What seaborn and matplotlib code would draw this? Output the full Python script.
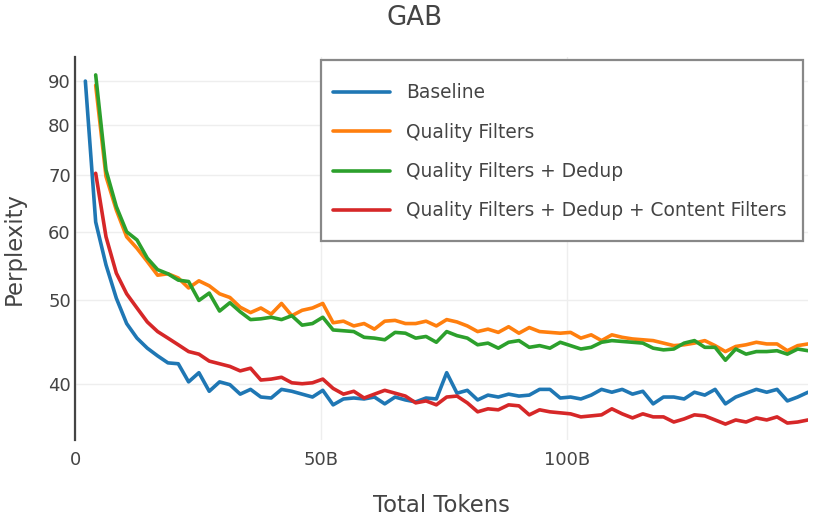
import matplotlib
matplotlib.use("Agg")
import matplotlib.pyplot as plt
from matplotlib.patches import Rectangle
from matplotlib.ticker import NullLocator
import pandas as pd
import seaborn as sns

# tokens seen (billions), one eval point every ~2.1B
tokens_b = [2.1, 4.2, 6.3, 8.4, 10.5, 12.6, 14.7, 16.8, 18.9, 21.0,
            23.1, 25.2, 27.3, 29.4, 31.5, 33.6, 35.7, 37.8, 39.9, 42.0,
            44.1, 46.2, 48.3, 50.4, 52.5, 54.6, 56.7, 58.8, 60.9, 63.0,
            65.1, 67.2, 69.3, 71.4, 73.5, 75.6, 77.7, 79.8, 81.9, 84.0,
            86.1, 88.2, 90.3, 92.4, 94.5, 96.6, 98.7, 100.8, 102.9, 105.0,
            107.1, 109.2, 111.3, 113.4, 115.5, 117.6, 119.7, 121.8, 123.9, 126.0,
            128.1, 130.2, 132.3, 134.4, 136.5, 138.6, 140.7, 142.8, 144.9, 147.0,
            149.1]

baseline = [90.0, 61.7, 55.0, 50.3, 47.0, 45.2, 44.0, 43.1, 42.3, 42.2,
            40.2, 41.2, 39.2, 40.2, 39.9, 38.9, 39.4, 38.6, 38.5, 39.4,
            39.2, 38.9, 38.6, 39.3, 37.8, 38.4, 38.5, 38.4, 38.6, 37.9,
            38.6, 38.3, 38.1, 38.5, 38.4, 41.2, 39.0, 39.3, 38.3, 38.8,
            38.6, 38.9, 38.7, 38.8, 39.4, 39.4, 38.5, 38.6, 38.4, 38.8,
            39.4, 39.1, 39.4, 38.9, 39.2, 37.9, 38.6, 38.6, 38.4, 39.1,
            38.8, 39.4, 37.9, 38.6, 39.0, 39.4, 39.1, 39.4, 38.2, 38.6,
            39.1]

quality = [None, 89.0, 69.7, 63.7, 59.3, 57.5, 55.5, 53.5, 53.7, 53.1,
           51.7, 52.7, 52.0, 50.9, 50.4, 49.1, 48.4, 49.0, 48.2, 49.6,
           48.0, 48.7, 49.0, 49.6, 47.1, 47.3, 46.7, 47.0, 46.3, 47.3,
           47.4, 47.0, 47.0, 47.3, 46.7, 47.5, 47.2, 46.7, 46.0, 46.3,
           45.9, 46.6, 45.8, 46.5, 46.0, 45.9, 45.8, 45.9, 45.2, 45.6,
           44.9, 45.6, 45.3, 45.1, 45.0, 44.9, 44.6, 44.3, 44.4, 44.6,
           44.9, 44.3, 43.6, 44.2, 44.4, 44.7, 44.5, 44.5, 43.7, 44.3,
           44.5]

dedup = [None, 91.5, 70.9, 64.3, 60.1, 58.8, 56.0, 54.3, 53.7, 52.8,
         52.6, 50.0, 51.0, 48.6, 49.7, 48.5, 47.5, 47.6, 47.8, 47.5,
         48.0, 46.8, 47.0, 47.8, 46.2, 46.1, 46.0, 45.3, 45.2, 45.0,
         45.9, 45.8, 45.2, 45.4, 44.7, 46.0, 45.5, 45.2, 44.4, 44.6,
         44.0, 44.7, 44.9, 44.1, 44.3, 44.0, 44.7, 44.3, 43.9, 44.1,
         44.7, 44.9, 44.8, 44.7, 44.6, 44.0, 43.8, 43.9, 44.6, 44.9,
         44.1, 44.1, 42.6, 43.9, 43.3, 43.6, 43.6, 43.7, 43.3, 43.9,
         43.7]

content = [None, 70.3, 59.3, 53.8, 50.9, 49.0, 47.2, 46.0, 45.2, 44.4,
           43.6, 43.3, 42.5, 42.2, 41.9, 41.4, 41.7, 40.4, 40.5, 40.7,
           40.1, 40.0, 40.1, 40.5, 39.5, 38.9, 39.2, 38.5, 38.9, 39.3,
           39.0, 38.7, 38.0, 38.2, 37.8, 38.6, 38.7, 38.0, 37.1, 37.4,
           37.3, 37.8, 37.7, 36.8, 37.3, 37.1, 37.0, 36.9, 36.6, 36.7,
           36.8, 37.4, 36.9, 36.5, 36.9, 36.6, 36.6, 36.1, 36.4, 36.8,
           36.7, 36.3, 35.9, 36.3, 36.1, 36.5, 36.3, 36.6, 36.0, 36.1,
           36.3]

run_names = ["Baseline", "Quality Filters", "Quality Filters + Dedup",
             "Quality Filters + Dedup + Content Filters"]
run_colors = ["#1f77b4", "#ff7f0e", "#2ca02c", "#d62728"]
y_ticks = [40, 50, 60, 70, 80, 90]
x_ticks = [0, 50, 100]
x_labels = ["0", "50B", "100B"]

frames = []
for name, vals in zip(run_names, [baseline, quality, dedup, content]):
    frames.append(pd.DataFrame({"tokens": tokens_b, "ppl": vals, "run": name}))
df = pd.concat(frames).dropna()

sns.set_style("white")
plt.rcParams["font.family"] = ["DejaVu Sans"]
text_col = "#444444"
W, H = 830, 520

fig = plt.figure(figsize=(8.3, 5.2), dpi=100)
ax = fig.add_axes([0.0904, 0.1538, 0.8831, 0.7366])

sns.lineplot(data=df, x="tokens", y="ppl", hue="run", hue_order=run_names,
             palette=run_colors, linewidth=2.6, estimator=None, ax=ax)

ax.set_yscale("log")
ax.set_ylim(34.4, 96)
ax.set_xlim(0, 149.1)
ax.set_yticks(y_ticks)
ax.set_yticklabels([str(t) for t in y_ticks])
ax.yaxis.set_minor_locator(NullLocator())
ax.set_xticks(x_ticks)
ax.set_xticklabels(x_labels)
ax.tick_params(axis="y", length=0, pad=3, labelsize=13, colors=text_col)
ax.tick_params(axis="x", length=0, pad=8, labelsize=13, colors=text_col)

ax.grid(True, color="#eeeeee", linewidth=1)
ax.set_axisbelow(True)
for side in ["top", "right", "bottom"]:
    ax.spines[side].set_visible(False)
ax.spines["left"].set_color(text_col)
ax.spines["left"].set_linewidth(1.6)

ax.set_xlabel("Total Tokens", fontsize=16.4, color=text_col, labelpad=18)
ax.set_ylabel("Perplexity", fontsize=16.4, color=text_col, labelpad=16)
fig.text(0.5, 1 - 18 / H, "GAB", ha="center", va="center",
         fontsize=18.8, color=text_col)

# legend box drawn separately so its padding can differ per side
box = Rectangle((321 / W, 1 - 241 / H), 482 / W, 181 / H,
                transform=fig.transFigure, facecolor="white",
                edgecolor="#888888", linewidth=1.6, zorder=4, clip_on=False)
ax.add_patch(box)

old = ax.get_legend()
handles = old.legend_handles
labels = [t.get_text() for t in old.get_texts()]
old.remove()
leg = ax.legend(handles, labels, loc="upper left",
                bbox_to_anchor=(333 / W, 1 - 83.5 / H),
                bbox_transform=fig.transFigure, borderaxespad=0,
                fontsize=13.4, frameon=False, borderpad=0,
                labelspacing=1.09, handlelength=3.05, handletextpad=0.86)
leg.set_zorder(5)
for h in leg.legend_handles:
    h.set_linewidth(2.6)
for t in leg.get_texts():
    t.set_color(text_col)

fig.savefig("out.png", dpi=100)
